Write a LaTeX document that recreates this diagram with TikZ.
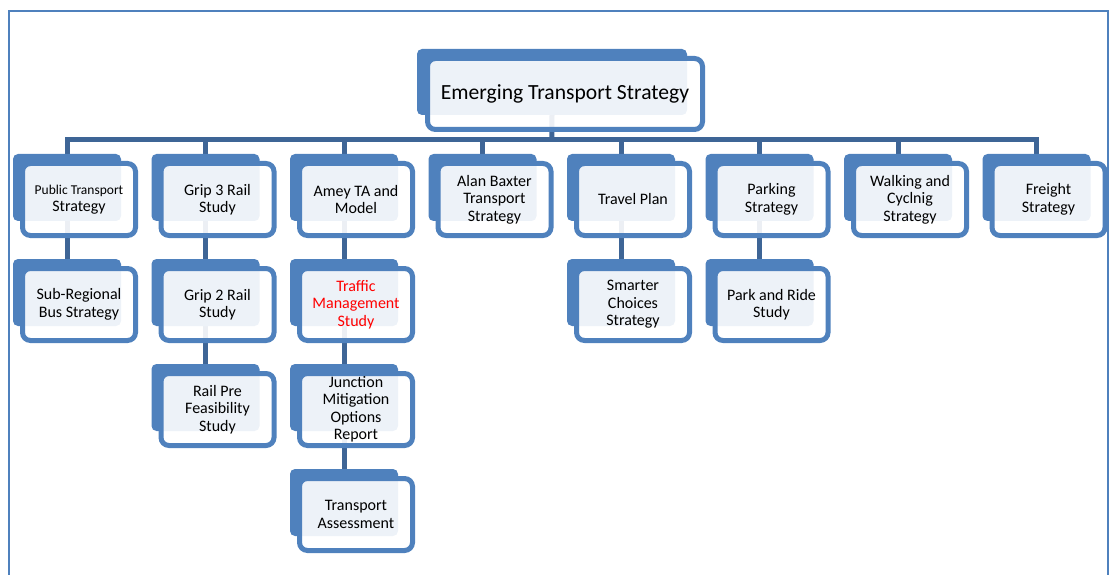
\documentclass[tikz,border=0pt]{standalone}
\usepackage{fontspec}
\setmainfont{Carlito}
\usetikzlibrary{backgrounds}
\definecolor{accent}{RGB}{79,129,189}
\definecolor{linkblue}{RGB}{62,101,150}

\begin{document}
\begin{tikzpicture}[x=1pt, y=-1pt, every node/.style={font=\fontsize{16}{17.5}\selectfont, align=center},
  back/.style={fill=accent, rounded corners=5pt, inner sep=0pt, minimum width=108pt, minimum height=67pt},
  front/.style={draw=accent, line width=5pt, fill=white, fill opacity=0.9, text opacity=1, rounded corners=8pt, inner sep=0pt, minimum width=113pt, minimum height=72pt},
  link/.style={draw=linkblue, line width=5pt}]
  \useasboundingbox (0,0) rectangle (1112,575);
  \draw[accent, line width=2pt] (9,575) -- (9,11) -- (1108,11) -- (1108,575);
  % top
  \node[back, minimum width=270pt, minimum height=66pt] (ets-b) at (552,82) {};
  \node[front, minimum width=275pt, minimum height=71pt, font=\fontsize{21.6}{26}\selectfont] (ets) at (565,94) {Emerging Transport Strategy};
  % first row
  \node[back] (pts-b) at (67,187.5) {};      \node[front] (pts) at (79,199.5) {{\fontsize{13.5}{15}\selectfont Public Transport}\\Strategy};
  \node[back] (g3-b) at (205.5,187.5) {};    \node[front] (g3) at (217.5,199.5) {Grip 3 Rail\\Study};
  \node[back] (amey-b) at (344,187.5) {};    \node[front] (amey) at (356,199.5) {Amey TA and\\Model};
  \node[back] (ab-b) at (482.5,187.5) {};    \node[front] (ab) at (494.5,199.5) {Alan Baxter\\Transport\\Strategy};
  \node[back] (tp-b) at (621,187.5) {};      \node[front] (tp) at (633,199.5) {Travel Plan};
  \node[back] (park-b) at (759.5,187.5) {};  \node[front] (park) at (771.5,199.5) {Parking\\Strategy};
  \node[back] (walk-b) at (898,187.5) {};    \node[front] (walk) at (910,199.5) {Walking and\\Cyclnig\\Strategy};
  \node[back] (frt-b) at (1036.5,187.5) {};  \node[front] (frt) at (1048.5,199.5) {Freight\\Strategy};
  % second row
  \node[back] (srb-b) at (67,292.5) {};      \node[front] (srb) at (79,304.5) {Sub-Regional\\Bus Strategy};
  \node[back] (g2-b) at (205.5,292.5) {};    \node[front] (g2) at (217.5,304.5) {Grip 2 Rail\\Study};
  \node[back] (tms-b) at (344,292.5) {};     \node[front, text=red] (tms) at (356,304.5) {Traffic\\Management\\Study};
  \node[back] (scs-b) at (621,292.5) {};     \node[front] (scs) at (633,304.5) {Smarter\\Choices\\Strategy};
  \node[back] (pr-b) at (759.5,292.5) {};    \node[front] (pr) at (771.5,304.5) {Park and Ride\\Study};
  % third and fourth rows
  \node[back] (rpf-b) at (205.5,397.5) {};   \node[front] (rpf) at (217.5,409.5) {Rail Pre\\Feasibility\\Study};
  \node[back] (jmo-b) at (344,397.5) {};     \node[front] (jmo) at (356,409.5) {Junction\\Mitigation\\Options\\Report};
  \node[back] (ta-b) at (344,502.5) {};      \node[front] (ta) at (356,514.5) {Transport\\Assessment};
  % connectors behind the boxes
  \begin{pgfonlayer}{background}
    \coordinate (bar) at (551.75,140);
    \draw[link] (ets-b.south) -- (bar);
    \foreach \n in {pts,g3,amey,ab,tp,park,walk,frt}
      \draw[link] (\n-b.north) |- (bar);
    \draw[link] (pts-b.south) -- (srb-b.north);
    \draw[link] (g3-b.south) -- (g2-b.north);
    \draw[link] (g2-b.south) -- (rpf-b.north);
    \draw[link] (amey-b.south) -- (tms-b.north);
    \draw[link] (tms-b.south) -- (jmo-b.north);
    \draw[link] (jmo-b.south) -- (ta-b.north);
    \draw[link] (tp-b.south) -- (scs-b.north);
    \draw[link] (park-b.south) -- (pr-b.north);
  \end{pgfonlayer}
\end{tikzpicture}
\end{document}
